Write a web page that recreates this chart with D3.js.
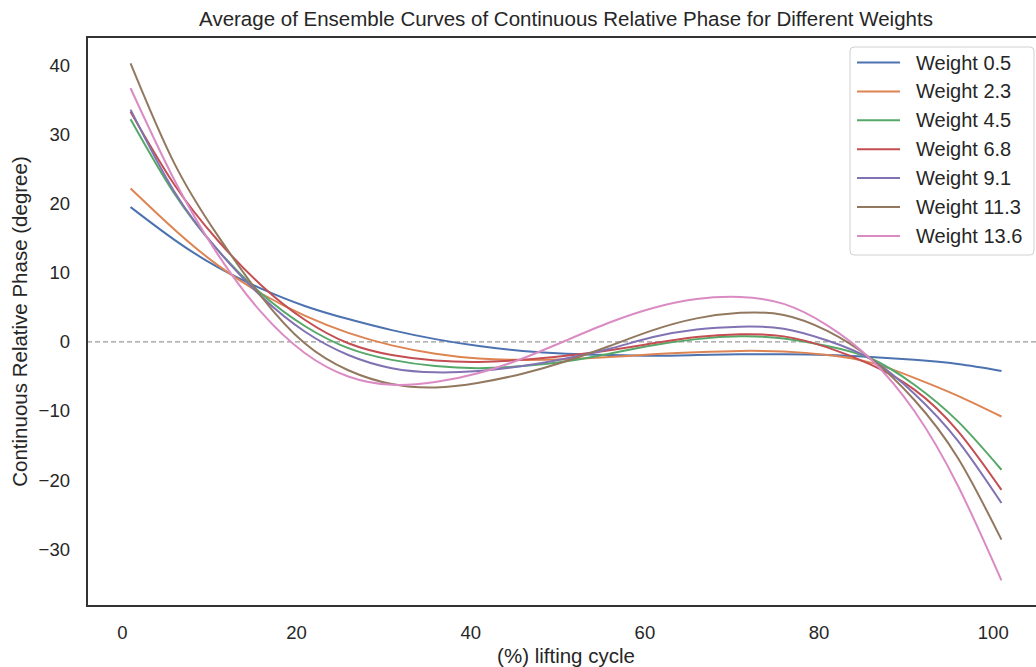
<!DOCTYPE html>
<html>
<head>
<meta charset="utf-8">
<script src="https://cdn.jsdelivr.net/npm/d3@7"></script>
<style>
    body { margin: 0; background: #fff; }
    text { font-family: "Liberation Sans", Arial, sans-serif; fill: #262626; }
</style>
</head>
<body>
<div id="chart"></div>
<script>
// data, one value every 5% of the cycle
var cycle = [1, 6, 11, 16, 21, 26, 31, 36, 41, 46, 51, 56, 61, 66, 71, 76, 81, 86, 91, 96, 101];
var weightNames = ["Weight 0.5", "Weight 2.3", "Weight 4.5", "Weight 6.8", "Weight 9.1", "Weight 11.3", "Weight 13.6"];
var w05 = [19.5, 14.8, 10.8, 7.7, 5.2, 3.3, 1.7, 0.4, -0.6, -1.3, -1.7, -1.9, -2.0, -1.9, -1.8, -1.8, -1.9, -2.2, -2.6, -3.2, -4.2];
var w23 = [22.2, 16.3, 11.1, 7.0, 3.8, 1.3, -0.5, -1.7, -2.4, -2.6, -2.5, -2.2, -1.8, -1.5, -1.3, -1.4, -1.9, -3.0, -5.2, -7.8, -10.8];
var w45 = [32.2, 21.5, 13.3, 7.0, 2.3, -0.9, -2.6, -3.5, -3.8, -3.5, -2.8, -1.7, -0.5, 0.4, 0.8, 0.5, -0.6, -2.4, -6.2, -11.5, -18.5];
var w68 = [33.3, 22.8, 14.7, 8.2, 3.2, -0.2, -1.9, -2.7, -2.9, -2.6, -2.0, -1.2, -0.2, 0.7, 1.1, 0.8, -0.8, -3.3, -6.9, -12.9, -21.4];
var w91 = [33.6, 21.8, 13.3, 6.6, 1.5, -1.9, -3.8, -4.4, -4.2, -3.5, -2.4, -1.0, 0.7, 1.8, 2.2, 1.9, 0.2, -2.5, -7.5, -14.3, -23.3];
var w113 = [40.3, 25.9, 15.4, 6.6, -0.2, -4.1, -6.1, -6.6, -5.9, -4.6, -2.8, -0.6, 1.7, 3.4, 4.2, 3.9, 1.6, -2.4, -8.4, -16.8, -28.6];
var w136 = [36.7, 23.5, 12.7, 4.3, -1.6, -5.0, -6.2, -5.8, -4.5, -2.4, 0.2, 2.8, 4.9, 6.2, 6.5, 5.5, 2.4, -2.5, -10.0, -20.8, -34.5];
var xTicks = [0, 20, 40, 60, 80, 100];
var yTicks = [-30, -20, -10, 0, 10, 20, 30, 40];

var allSeries = [w05, w23, w45, w68, w91, w113, w136];
var colors = ["#4c72b0", "#dd8452", "#55a868", "#c44e52", "#8172b3", "#937860", "#da8bc3"];

var svgWidth = 1036;
var svgHeight = 667;

// plot frame runs off the right side of the picture
var frame = { left: 87, top: 37, right: 1045, bottom: 606 };

var svg = d3.select("#chart")
    .append("svg")
    .attr("width", svgWidth)
    .attr("height", svgHeight);

var xScale = d3.scaleLinear()
    .domain([-4, 106])
    .range([frame.left, frame.right]);

var yScale = d3.scaleLinear()
    .domain([-38.2, 44.1])
    .range([frame.bottom, frame.top]);

// axes, labels only (no tick marks, no domain line)
var xAxis = svg.append("g")
    .attr("transform", `translate(0, ${frame.bottom})`)
    .call(d3.axisBottom(xScale).tickValues(xTicks).tickSize(0).tickPadding(20));
xAxis.select(".domain").remove();
xAxis.selectAll("text")
    .style("font-size", "18.5px")
    .attr("fill", "#262626");

var yAxis = svg.append("g")
    .attr("transform", `translate(${frame.left}, 0)`)
    .call(d3.axisLeft(yScale).tickValues(yTicks).tickSize(0).tickPadding(17)
        .tickFormat(d => d < 0 ? "\u2212" + Math.abs(d) : d));
yAxis.select(".domain").remove();
yAxis.selectAll("text")
    .style("font-size", "18.5px")
    .attr("fill", "#262626");

// zero reference line
svg.append("line")
    .attr("x1", frame.left)
    .attr("x2", frame.right)
    .attr("y1", yScale(0))
    .attr("y2", yScale(0))
    .attr("stroke", "#808080")
    .attr("stroke-width", 1)
    .attr("stroke-dasharray", "5,3");

var line = d3.line()
    .x((d, i) => xScale(cycle[i]))
    .y(d => yScale(d))
    .curve(d3.curveNatural);

svg.selectAll(".curve")
    .data(allSeries)
    .enter()
    .append("path")
    .attr("class", "curve")
    .attr("d", d => line(d))
    .attr("fill", "none")
    .attr("stroke", (d, i) => colors[i])
    .attr("stroke-width", 2);

// frame spines
svg.append("rect")
    .attr("x", frame.left)
    .attr("y", frame.top)
    .attr("width", frame.right - frame.left)
    .attr("height", frame.bottom - frame.top)
    .attr("fill", "none")
    .attr("stroke", "#333")
    .attr("stroke-width", 2);

// title and axis labels
svg.append("text")
    .attr("x", (frame.left + frame.right) / 2)
    .attr("y", 26)
    .attr("text-anchor", "middle")
    .style("font-size", "20.5px")
    .text("Average of Ensemble Curves of Continuous Relative Phase for Different Weights");

svg.append("text")
    .attr("x", (frame.left + frame.right) / 2)
    .attr("y", 663)
    .attr("text-anchor", "middle")
    .style("font-size", "20.5px")
    .text("(%) lifting cycle");

svg.append("text")
    .attr("transform", `translate(27, ${(frame.top + frame.bottom) / 2}) rotate(-90)`)
    .attr("text-anchor", "middle")
    .style("font-size", "20.5px")
    .text("Continuous Relative Phase (degree)");

// legend
var legend = svg.append("g")
    .attr("transform", "translate(850, 47)");

legend.append("rect")
    .attr("width", 184)
    .attr("height", 208)
    .attr("rx", 4)
    .attr("fill", "#fff")
    .attr("fill-opacity", 0.8)
    .attr("stroke", "#d0d0d0")
    .attr("stroke-width", 1);

var rows = legend.selectAll(".row")
    .data(weightNames)
    .enter()
    .append("g")
    .attr("class", "row")
    .attr("transform", (d, i) => `translate(0, ${15.5 + i * 28.9})`);

rows.append("line")
    .attr("x1", 7)
    .attr("x2", 50)
    .attr("stroke", (d, i) => colors[i])
    .attr("stroke-width", 2);

rows.append("text")
    .attr("x", 66)
    .attr("dy", "0.35em")
    .style("font-size", "20px")
    .text(d => d);
</script>
</body>
</html>
